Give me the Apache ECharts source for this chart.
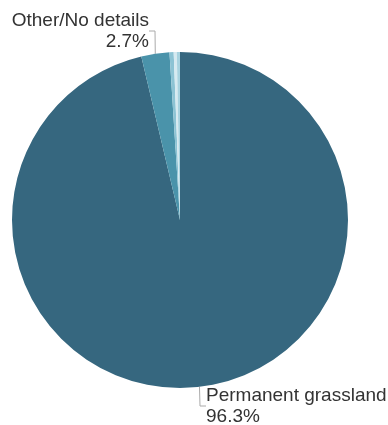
<!DOCTYPE html>
<html><head><meta charset="utf-8">
<script src="https://cdn.jsdelivr.net/npm/echarts@6/dist/echarts.min.js"></script>
<style>html,body{margin:0;padding:0;background:#fff}#c{width:388px;height:425px}</style>
</head><body><div id="c"></div>
<script>
const categories = ['Permanent grassland', 'Other/No details', 'Small 1', 'Small 2', 'Small 3'];
const values = [96.3, 2.7, 0.4, 0.3, 0.3];
const colors = ['#36677f', '#4a93aa', '#8cc3d4', '#d6eaf1', '#a8d3e0'];
const showLabel = [true, true, false, false, false];

const chart = echarts.init(document.getElementById('c'));
chart.setOption({
  animation: false,
  series: [{
    type: 'pie',
    center: [180, 220],
    radius: 168,
    startAngle: 90,
    clockwise: true,
    data: categories.map((c, i) => ({
      name: c, value: values[i],
      itemStyle: { color: colors[i] },
      label: { show: showLabel[i] },
      labelLine: { show: showLabel[i] }
    })),
    label: {
      formatter: p => p.name + '\n' + p.value.toFixed(1) + '%',
      fontFamily: 'Liberation Sans, Arial, sans-serif',
      fontSize: 19,
      lineHeight: 21,
      color: '#333',
      overflow: 'none',
      width: 200
    },
    labelLine: { lineStyle: { color: '#aaa', width: 1 }, length: 8, length2: 6 },
    labelLayout: function (p) {
      if (p.dataIndex === 0) return { x: 206, y: 406, align: 'left', verticalAlign: 'middle' };
      if (p.dataIndex === 1) return { x: 149, y: 31, align: 'right', verticalAlign: 'middle' };
      return {};
    }
  }]
});
</script></body></html>
